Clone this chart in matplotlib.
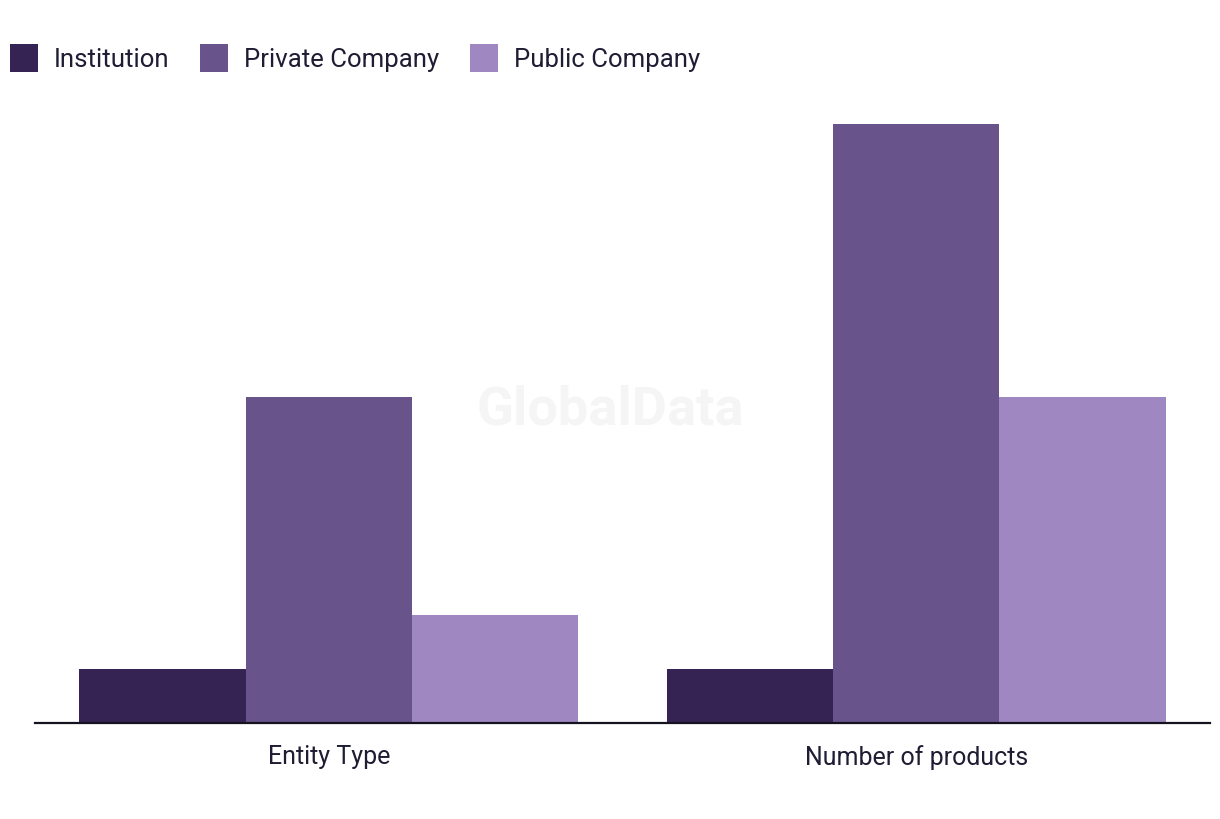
import matplotlib.pyplot as plt
import numpy as np

# data
categories = ["Entity Type", "Number of products"]
series_names = ["Institution", "Private Company", "Public Company"]
institution = [1, 1]
private_company = [6, 11]
public_company = [2, 6]

colors = ["#352353", "#68548a", "#9f88c1"]
text_color = "#1f1d33"

plt.rcParams['font.family'] = ['Roboto', 'DejaVu Sans']

fig = plt.figure(figsize=(12.2, 8.2), dpi=100)
ax = fig.add_axes([0.0287, 0.1165, 0.963, 0.797])

x = np.arange(len(categories))
w = 0.2833
for i, (vals, name) in enumerate(zip([institution, private_company, public_company], series_names)):
    ax.bar(x + (i - 1) * w, vals, width=w, color=colors[i], label=name, linewidth=0)

ax.set_xlim(-0.5, 1.5)
ax.set_ylim(0, 12)
ax.set_xticks(x)
ax.set_xticklabels(categories, fontsize=18, color=text_color)
ax.tick_params(axis='x', length=0, pad=15)
ax.set_yticks([])
for s in ['top', 'right', 'left']:
    ax.spines[s].set_visible(False)
ax.spines['bottom'].set_color('#15131f')
ax.spines['bottom'].set_linewidth(1.6)

# watermark
fig.text(0.5, 0.5, "GlobalData", fontsize=39, fontweight='bold', color='#f5f5f5',
         ha='center', va='center', zorder=0)

# legend
leg = fig.legend(loc='upper left', bbox_to_anchor=(10 / 1220, 1 - 46 / 820), ncol=3, frameon=False,
                 prop={'size': 18.5}, handlelength=1.09, handleheight=1.09,
                 handletextpad=0.62, columnspacing=1.2, borderaxespad=0, borderpad=0)
for t in leg.get_texts():
    t.set_color(text_color)
for p in leg.get_patches():
    p.set_width(28 * 72 / 100)
    p.set_height(28 * 72 / 100)
    p.set_y(p.get_y() - 2)

fig.savefig("out.png", dpi=100, facecolor='white')
